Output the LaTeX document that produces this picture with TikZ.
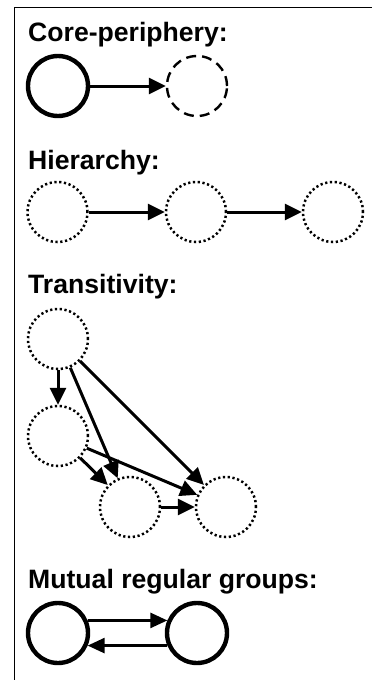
\documentclass[tikz,border=0pt]{standalone}
\usepackage{fontspec}
\setmainfont{Liberation Sans}
\usetikzlibrary{arrows.meta}
\tikzset{
  solidgrp/.style={circle, draw, line width=4.4pt, minimum size=60pt, inner sep=0pt},
  dashgrp/.style={circle, draw, line width=2.4pt, minimum size=60pt, inner sep=0pt, dash pattern=on 10pt off 6pt},
  dotgrp/.style={circle, draw, line width=2.5pt, minimum size=60pt, inner sep=0pt, dash pattern=on 2.2pt off 2.6pt},
  tie/.style={line width=3pt, -{Triangle[length=17pt,width=16pt]}},
  thintie/.style={line width=2.6pt, -{Triangle[length=17pt,width=15pt]}},
  heading/.style={anchor=base west, inner sep=0pt, font=\fontsize{26.6}{30}\selectfont\bfseries}
}
\begin{document}
\begin{tikzpicture}[x=1pt, y=-1pt]
\useasboundingbox (0,0) rectangle (372,680);
\fill[white] (0,0) rectangle (372,680);
\draw[line width=1.8pt] (14.5,680) -- (14.5,7.5) -- (372,7.5);

% Core-periphery
\node[heading] (t1) at (28,41) {Core-periphery:};
\node[solidgrp] (p1) at (58,86) {};
\node[dashgrp] (p2) at (197,86) {};
\draw[tie] (p1) -- (p2);

% Hierarchy
\node[heading] (t2) at (28,169) {Hierarchy:};
\node[dotgrp] (h1) at (57.5,212) {};
\node[dotgrp] (h2) at (196,212) {};
\node[dotgrp] (h3) at (333,212) {};
\draw[tie] (h1) -- (h2);
\draw[tie] (h2) -- (h3);

% Transitivity
\node[heading] (t3) at (28,293) {Transitivity:};
\node[dotgrp] (a) at (58,339) {};
\node[dotgrp] (b) at (58,436) {};
\node[dotgrp] (c) at (130,507) {};
\node[dotgrp] (d) at (226,507) {};
\draw[tie] (a) -- (b);
\draw[tie] (a) -- (c);
\draw[tie] (a) -- (d);
\draw[tie] (b) -- (c);
\draw[tie] (b) -- (d);
\draw[tie] (c) -- (d);

% Mutual regular groups
\node[heading] (t4) at (28,588) {Mutual regular groups:};
\node[solidgrp] (m1) at (58,633) {};
\node[solidgrp] (m2) at (197,633) {};
\draw[thintie] (m1.23) -- (m2.157);
\draw[thintie] (m2.-157) -- (m1.-23);
\end{tikzpicture}
\end{document}
